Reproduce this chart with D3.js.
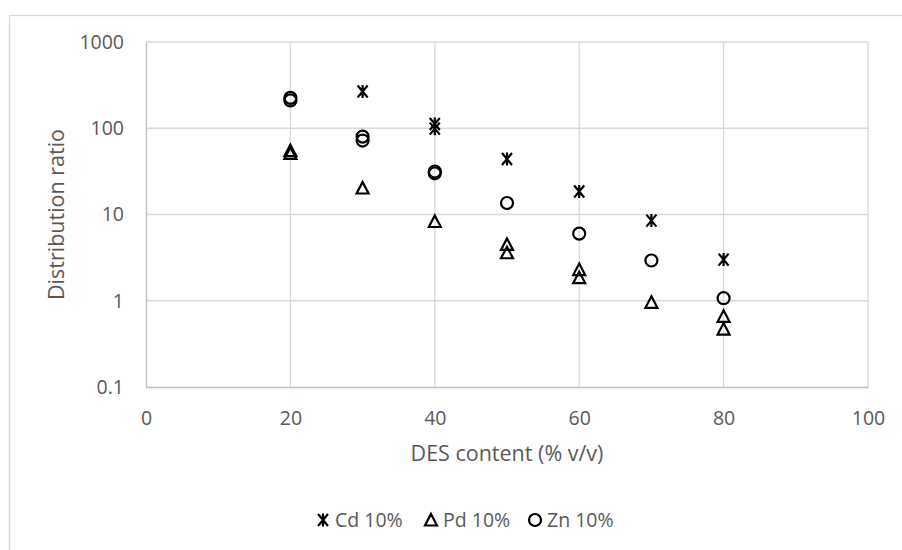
<!DOCTYPE html>
<html>
<head>
<meta charset="utf-8">
<script src="https://cdn.jsdelivr.net/npm/d3@7"></script>
<style>
  html, body { margin: 0; padding: 0; background: #fff; }
  svg { display: block; }
  text { font-family: "Open Sans", "Noto Sans", sans-serif; fill: #595959; }
</style>
</head>
<body>
<svg id="chart" width="902" height="550"></svg>
<script>
// Distribution ratio vs DES content (duplicate measurements at some levels)
const cdX = [30, 40, 40, 50, 60, 70, 80];
const cdY = [267, 112, 99, 44, 18.5, 8.5, 3.0];
const pdX = [20, 20, 30, 40, 50, 50, 60, 60, 70, 80, 80];
const pdY = [55, 51, 20.3, 8.3, 4.5, 3.6, 2.3, 1.85, 0.96, 0.66, 0.47];
const znX = [20, 20, 30, 30, 40, 40, 50, 60, 70, 80];
const znY = [225, 210, 80, 72, 31.5, 30, 13.6, 6.0, 2.93, 1.07];

const xTicks = [0, 20, 40, 60, 80, 100];
const yTicks = [0.1, 1, 10, 100, 1000];
const seriesNames = ["Cd 10%", "Pd 10%", "Zn 10%"];
const xTitle = "DES content (% v/v)";
const yTitle = "Distribution ratio";

const svg = d3.select("#chart");
const plotL = 146, plotR = 868, plotT = 42, plotB = 387;

const x = d3.scaleLinear().domain([0, 100]).range([plotL, plotR]);
const y = d3.scaleLog().domain([0.1, 1000]).range([plotB, plotT]);

// outer chart frame
svg.append("rect")
  .attr("x", 9.5).attr("y", 15.5).attr("width", 905).attr("height", 600)
  .attr("fill", "none").attr("stroke", "#d9d9d9").attr("stroke-width", 1.3);

// gridlines
const grid = svg.append("g");
grid.selectAll("line.h").data(yTicks.slice(1)).join("line")
  .attr("x1", plotL).attr("x2", plotR)
  .attr("y1", d => y(d)).attr("y2", d => y(d))
  .attr("stroke", "#d9d9d9").attr("stroke-width", 1.3);
grid.selectAll("line.v").data(xTicks.slice(1)).join("line")
  .attr("y1", plotT).attr("y2", plotB)
  .attr("x1", d => x(d)).attr("x2", d => x(d))
  .attr("stroke", "#d9d9d9").attr("stroke-width", 1.3);

// axes
const xAxis = svg.append("g").attr("transform", `translate(0,${plotB})`)
  .call(d3.axisBottom(x).tickValues(xTicks).tickSize(0).tickPadding(24).tickFormat(d3.format("d")));
const yAxis = svg.append("g").attr("transform", `translate(${plotL},0)`)
  .call(d3.axisLeft(y).tickValues(yTicks).tickSize(0).tickPadding(22)
    .tickFormat(d => d < 1 ? "0.1" : d3.format("d")(d)));
[xAxis, yAxis].forEach(a => {
  a.select(".domain").attr("stroke", "#bfbfbf").attr("stroke-width", 1.3);
  a.selectAll("text").attr("fill", "#595959").style("font-size", "19.5px")
    .style("font-family", "'Open Sans', sans-serif");
});

// axis titles
svg.append("text").attr("x", (plotL + plotR) / 2).attr("y", 461)
  .attr("text-anchor", "middle").style("font-size", "21.5px").text(xTitle);
svg.append("text").attr("transform", `translate(64,${(plotT + plotB) / 2}) rotate(-90)`)
  .attr("text-anchor", "middle").style("font-size", "21.5px").text(yTitle);

// marker shapes
function drawMarker(g, type) {
  if (type === "star") {
    g.append("path")
      .attr("d", "M-5,-6L5,6M-5,6L5,-6M0,-6.5L0,6.5")
      .attr("stroke", "#000").attr("stroke-width", 2.2).attr("fill", "none");
  } else if (type === "triangle") {
    g.append("path")
      .attr("d", "M0,-6L6,5.5L-6,5.5Z")
      .attr("stroke", "#000").attr("stroke-width", 2.2).attr("fill", "none")
      .attr("stroke-linejoin", "miter");
  } else {
    g.append("circle").attr("r", 6)
      .attr("stroke", "#000").attr("stroke-width", 2.2).attr("fill", "none");
  }
}

const series = [
  { xs: cdX, ys: cdY, type: "star" },
  { xs: pdX, ys: pdY, type: "triangle" },
  { xs: znX, ys: znY, type: "circle" }
];

series.forEach(s => {
  const pts = s.xs.map((xv, i) => [xv, s.ys[i]]);
  svg.append("g").selectAll("g").data(pts).join("g")
    .attr("transform", d => `translate(${x(d[0])},${y(d[1])})`)
    .each(function () { drawMarker(d3.select(this), s.type); });
});

// legend
const legendPos = [323, 431, 535];
series.forEach((s, i) => {
  const g = svg.append("g").attr("transform", `translate(${legendPos[i]},520)`);
  drawMarker(g, s.type);
  g.append("text").attr("x", 12).attr("y", 7).style("font-size", "19.5px").text(seriesNames[i]);
});
</script>
</body>
</html>
